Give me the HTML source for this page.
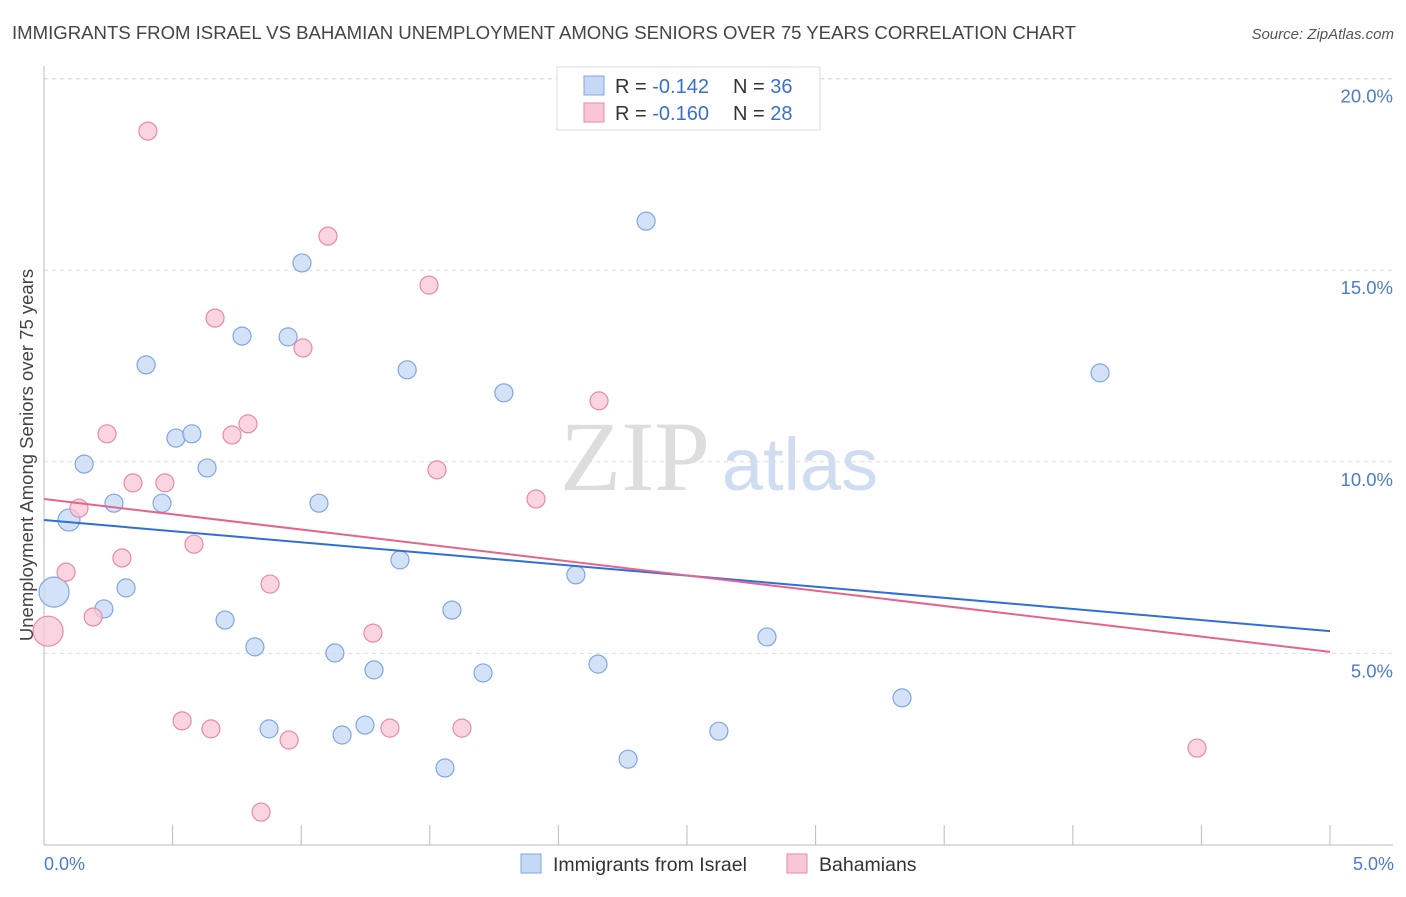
<!DOCTYPE html>
<html><head><meta charset="utf-8"><style>
body{margin:0;background:#fff;font-family:"Liberation Sans",sans-serif;}
</style></head><body>
<svg width="1406" height="892" xmlns="http://www.w3.org/2000/svg">
<text x="12" y="39" font-size="18.6" fill="#444" textLength="1064">IMMIGRANTS FROM ISRAEL VS BAHAMIAN UNEMPLOYMENT AMONG SENIORS OVER 75 YEARS CORRELATION CHART</text>
<text x="1394" y="39" font-size="15" fill="#555" font-style="italic" text-anchor="end">Source: ZipAtlas.com</text>
<g>
<text x="635" y="490" font-size="100" font-family="Liberation Serif,serif" fill="#ddd" text-anchor="middle">ZIP</text>
<text x="800" y="490" font-size="74" fill="#cfdcf2" text-anchor="middle">atlas</text>
</g>
<g id="grid"></g>
<g id="points"></g>
<text transform="translate(33,455) rotate(-90)" font-size="18.5" fill="#444" text-anchor="middle">Unemployment Among Seniors over 75 years</text>
<text x="44" y="870" font-size="18" fill="#4a7bd0">0.0%</text>
<text x="1394" y="870" font-size="18" fill="#4a7bd0" text-anchor="end">5.0%</text>
<g>
<rect x="557" y="67" width="263" height="63" fill="#fff" stroke="#ddd"/>
<rect x="584" y="76" width="20" height="19" fill="#c5d8f5" stroke="#7fa7e0"/>
<rect x="584" y="103" width="20" height="19" fill="#f8c6d6" stroke="#e88aa8"/>
<text x="615" y="93" font-size="20" fill="#333">R = <tspan fill="#3a6fd0">-0.142</tspan><tspan x="733">N = </tspan><tspan fill="#3a6fd0">36</tspan></text>
<text x="615" y="120" font-size="20" fill="#333">R = <tspan fill="#3a6fd0">-0.160</tspan><tspan x="733">N = </tspan><tspan fill="#3a6fd0">28</tspan></text>
</g>
<g>
<rect x="521" y="854" width="20" height="19" fill="#c5d8f5" stroke="#7fa7e0"/>
<text x="553" y="871" font-size="19.5" fill="#333">Immigrants from Israel</text>
<rect x="787" y="854" width="20" height="19" fill="#f8c6d6" stroke="#e88aa8"/>
<text x="819" y="871" font-size="19.5" fill="#333">Bahamians</text>
</g>
</svg>
<script>
const yTicks=[5,10,15,20];
const yTickLabels=["5.0%","10.0%","15.0%","20.0%"];
const xTicks=[0,0.5,1,1.5,2,2.5,3,3.5,4,4.5,5];
const israelX=[0.039,0.097,0.156,0.233,0.272,0.319,0.397,0.459,0.513,0.575,0.634,0.704,0.770,0.820,0.875,0.949,1.003,1.069,1.131,1.159,1.248,1.283,1.384,1.412,1.559,1.586,1.707,1.788,2.068,2.154,2.271,2.341,2.624,2.811,3.336,4.106];
const israelY=[6.60,8.48,9.94,6.16,8.92,6.71,12.53,8.92,10.62,10.73,9.84,5.87,13.28,5.17,3.03,13.26,15.19,8.92,5.01,2.87,3.13,4.57,7.44,12.40,2.01,6.13,4.49,11.80,7.05,4.72,2.24,16.28,2.97,5.43,3.84,12.32];
const israelR=[15,11,9,9,9,9,9,9,9,9,9,9,9,9,9,9,9,9,9,9,9,9,9,9,9,9,9,9,9,9,9,9,9,9,9,9];
const bahX=[0.016,0.086,0.136,0.191,0.245,0.303,0.346,0.404,0.470,0.537,0.583,0.649,0.665,0.731,0.793,0.844,0.879,0.953,1.007,1.104,1.279,1.345,1.497,1.528,1.625,1.913,2.158,4.483];
const bahY=[5.58,7.12,8.79,5.95,10.73,7.49,9.45,18.63,9.45,3.24,7.85,3.03,13.75,10.70,10.99,0.86,6.81,2.74,12.97,15.89,5.53,3.05,14.61,9.79,3.05,9.03,11.59,2.53];
const bahR=[15,9,9,9,9,9,9,9,9,9,9,9,9,9,9,9,9,9,9,9,9,9,9,9,9,9,9,9];
const israelTrend=[8.48,5.58];
const bahTrend=[9.03,5.04];
const NS="http://www.w3.org/2000/svg";
const X=v=>44+v/5*1286;
const Y=v=>845-v/5*191.6;
function mk(t,a,p){const e=document.createElementNS(NS,t);for(const k in a)e.setAttribute(k,a[k]);p.appendChild(e);return e;}
const grid=document.getElementById('grid');
yTicks.forEach((t,i)=>{
 const l=mk('line',{x1:44,x2:1393,y1:Y(t),y2:Y(t),stroke:'#ddd','stroke-dasharray':'4,4'},grid);
 
 
 const tx=mk('text',{x:1393,y:Y(t)+24,'font-size':18.5,fill:'#4a7bd0','text-anchor':'end'},grid);
 tx.textContent=yTickLabels[i];
 
 
});
const topGrid=mk('line',{x1:44,x2:1393,y1:79,y2:79,stroke:'#ddd','stroke-dasharray':'4,4'},grid);


const ya=mk('line',{x1:44,x2:44,y1:66,y2:845,stroke:'#bbb'},grid);


const xa=mk('line',{x1:44,x2:1393,y1:845,y2:845,stroke:'#bbb'},grid);


xTicks.forEach(t=>{
 const l=mk('line',{x1:X(t),x2:X(t),y1:825,y2:845,stroke:'#bbb'},grid);
 
 
});
const pts=document.getElementById('points');
function series(xs,ys,rs,fill,stroke,name){
 xs.forEach((x,i)=>{
  const c=mk('circle',{cx:X(x),cy:Y(ys[i]),r:rs[i],fill:fill,stroke:stroke,'stroke-width':1.2,'fill-opacity':0.75},pts);
  
  
 });
}
series(israelX,israelY,israelR,'#c5d8f5','#7fa7e0','israel-point');
series(bahX,bahY,bahR,'#f8c6d6','#e88aa8','bahamian-point');
const l1=mk('line',{x1:X(0),y1:Y(israelTrend[0]),x2:X(5),y2:Y(israelTrend[1]),stroke:'#2f6fd6','stroke-width':2},pts);


const l2=mk('line',{x1:X(0),y1:Y(bahTrend[0]),x2:X(5),y2:Y(bahTrend[1]),stroke:'#e5648e','stroke-width':2},pts);


</script>
</body></html>
